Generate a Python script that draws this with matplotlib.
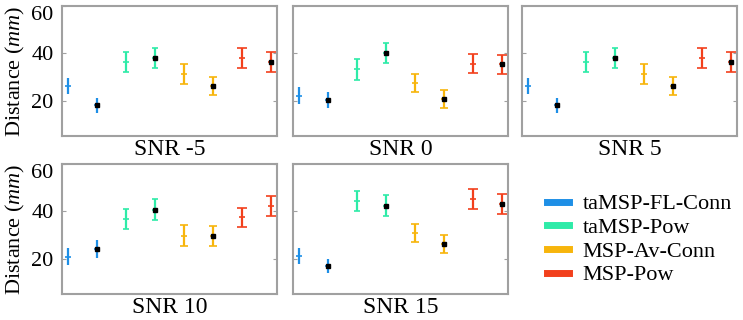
import numpy as np
import matplotlib
matplotlib.use('Agg')
import matplotlib.pyplot as plt
from matplotlib.lines import Line2D

plt.rcParams['font.family'] = 'Liberation Serif'
plt.rcParams['mathtext.fontset'] = 'custom'
plt.rcParams['mathtext.rm'] = 'Liberation Serif'
plt.rcParams['mathtext.it'] = 'Liberation Serif:italic'

# data
snr_labels = ['SNR -5', 'SNR 0', 'SNR 5', 'SNR 10', 'SNR 15']
methods = ['taMSP-FL-Conn', 'taMSP-Pow', 'MSP-Av-Conn', 'MSP-Pow']
colors = ['#1E8FE6', '#2EEBA8', '#F7B50C', '#F2401C']

# two points per method: first plain, second with black marker
means = [
    [26.1, 18.0, 36.3, 38.0, 31.3, 26.2, 38.0, 36.3],
    [22.1, 20.3, 33.2, 40.1, 27.5, 20.7, 35.5, 35.3],
    [26.1, 18.0, 36.3, 38.0, 31.3, 26.2, 38.0, 36.3],
    [20.7, 24.0, 36.7, 40.7, 29.7, 29.7, 37.4, 42.1],
    [21.1, 16.9, 44.3, 42.4, 30.8, 26.1, 45.2, 43.1],
]
errs = [
    [3.5, 3.1, 4.3, 4.3, 4.2, 3.8, 4.3, 4.3],
    [3.7, 3.5, 4.3, 4.3, 3.7, 3.8, 4.0, 4.0],
    [3.5, 3.1, 4.3, 4.3, 4.2, 3.8, 4.3, 4.3],
    [3.6, 3.9, 4.2, 4.3, 4.3, 4.2, 4.0, 4.3],
    [3.3, 3.1, 4.3, 4.5, 4.0, 3.7, 4.1, 4.3],
]
# which points carry the black marker
marked = [
    [0, 1, 0, 1, 0, 1, 0, 1],
    [0, 1, 0, 1, 0, 1, 0, 1],
    [0, 1, 0, 1, 0, 1, 0, 1],
    [0, 1, 0, 1, 0, 1, 0, 0],
    [0, 1, 0, 1, 0, 1, 0, 1],
]
yticks = [20, 40, 60]
caps = [0, 2.0, 3.0, 3.5]

W, H = 743, 320
fig = plt.figure(figsize=(W / 100, H / 100), dpi=100)

col_left = [62, 293, 522]
row_top = [6, 164]
ax_w, ax_h = 215, 130

grey = '#A0A0A0'
for k, lab in enumerate(snr_labels):
    r, c = divmod(k, 3)
    x0 = col_left[c] / W
    y0 = 1 - (row_top[r] + ax_h) / H
    ax = fig.add_axes([x0, y0, ax_w / W, ax_h / H])
    xs = np.arange(1, 9)
    for i in range(8):
        col = colors[i // 2]
        ax.errorbar(xs[i], means[k][i], yerr=errs[k][i], color=col, lw=1.6,
                    capsize=caps[i // 2], capthick=1.3, marker='_', ms=5, mew=1.2)
        if marked[k][i]:
            ax.plot(xs[i], means[k][i], marker='s', ms=2.8, color='black',
                    mec='black', zorder=5)
    ax.set_xlim(0.8, 8.2)
    ax.set_ylim(5, 60)
    ax.set_xticks([])
    ax.set_yticks(yticks)
    ax.tick_params(axis='y', direction='in', length=3, color=grey, width=0.8,
                   right=True, labelsize=16, pad=6)
    for sp in ax.spines.values():
        sp.set_color(grey)
        sp.set_linewidth(1.5)
    ax.set_xlabel(lab, fontsize=17, labelpad=2)
    if c == 0:
        ax.set_ylabel('Distance ($\\mathit{mm}$)', fontsize=16, labelpad=3)
        tl = ax.get_yticklabels()
        tl[-1].set_va('top')
    else:
        ax.set_yticklabels([])

handles = [Line2D([0], [0], color=colors[i], lw=5) for i in range(4)]
fig.legend(handles, methods, loc='upper left', bbox_to_anchor=(538 / W, 1 - 185 / H),
           frameon=False, fontsize=16, handlelength=1.0, handletextpad=0.6,
           labelspacing=0.14, borderaxespad=0)

fig.savefig('out.png', dpi=100)
